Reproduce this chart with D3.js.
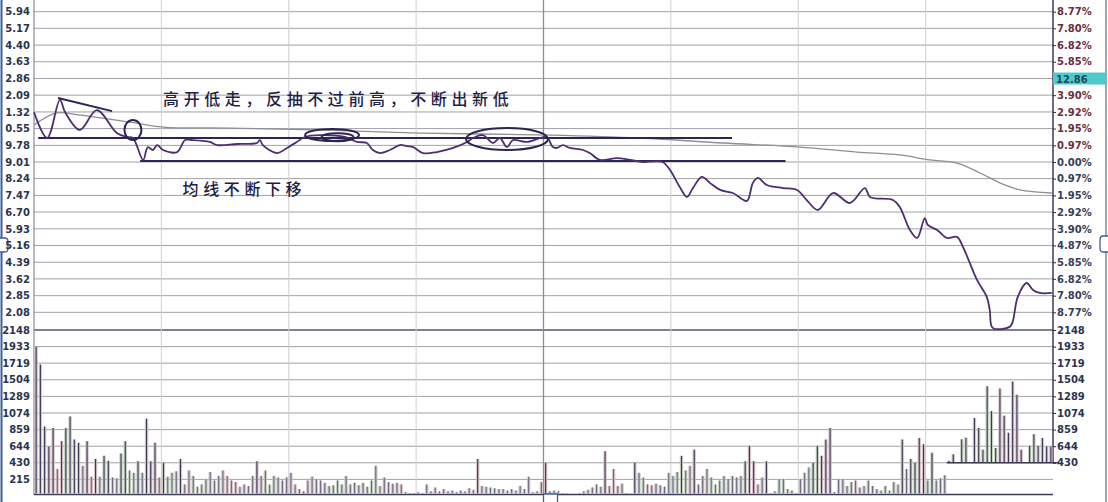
<!DOCTYPE html>
<html><head><meta charset="utf-8">
<script src="https://cdn.jsdelivr.net/npm/d3@7/dist/d3.min.js"></script>
<style>
html,body{margin:0;padding:0;background:#fff;}
svg{display:block;}
</style></head>
<body><svg id="c" width="1108" height="502"></svg>
<script>
// ---------- DATA ----------
// price line: [minute, % change]
const pricePts = [[0,2.9],[3.1,1.4],[6.1,3.62],[7.3,2.92],[10.8,1.87],[14.8,3.03],[19.5,1.69],[21.9,1.46],[23.3,1.4],[25.7,0.12],[26.8,0.87],[28,0.7],[29,0.99],[30.4,0.7],[33.7,0.58],[35.6,1.28],[37.4,1.28],[41.4,1.17],[43.1,0.99],[47.8,1.05],[52.5,1.11],[53.2,1.28],[53.9,0.99],[57.2,0.52],[59.6,0.82],[61.9,1.17],[63.8,1.46],[67.4,1.57],[73.2,1.46],[76.1,1.17],[78.4,1.11],[79.8,0.7],[81.5,0.52],[83.8,0.7],[86.2,0.99],[87.8,0.93],[89.3,0.87],[91.6,0.52],[94.9,0.58],[98.7,0.82],[102,1.17],[103.4,1.4],[105.7,1.57],[108.1,1.11],[109.7,1.4],[111.4,0.87],[112.8,1.28],[116.1,1.17],[119.2,1.4],[120.8,1.46],[122.2,0.87],[123.2,0.82],[124.6,0.99],[126.2,0.82],[129.3,0.7],[130.9,0.52],[133.3,0.12],[137.3,0.23],[140.4,0.12],[143.4,0],[148.1,0],[149.8,-0.47],[152.1,-1.46],[153.8,-2.04],[155.2,-1.52],[157.3,-0.87],[159.2,-1.22],[161.6,-1.63],[164.6,-1.81],[167.9,-2.27],[169.3,-1.22],[170.5,-0.93],[172.6,-1.34],[176.4,-1.52],[179.7,-1.63],[182,-2.22],[184.6,-2.8],[188.2,-1.81],[192.2,-2.39],[195.7,-1.52],[196.9,-2.04],[202.3,-2.22],[203.9,-2.62],[206.3,-3.97],[208,-4.43],[209.8,-3.27],[210.5,-3.67],[212.7,-3.97],[215,-4.43],[217.4,-4.37],[218.8,-4.96],[220.4,-5.89],[222.1,-6.88],[224.4,-7.87],[225.1,-8.63],[225.8,-9.68],[229.8,-9.62],[230.5,-9.33],[231.7,-7.87],[233.8,-7.06],[235.3,-7.47],[236.9,-7.64],[239.7,-7.64]];
// average price line: [minute, % change]
const avgPts = [[0,2.16],[5.4,2.86],[10.8,2.74],[22.6,2.33],[30.4,2.04],[46.2,1.98],[66.6,1.87],[90.9,1.69],[121.5,1.57],[142.7,1.4],[162.3,1.11],[180.4,0.87],[193.8,0.58],[203.9,0.41],[211,0.12],[217.4,-0.06],[222.8,-0.64],[227.5,-1.22],[232.2,-1.63],[239.7,-1.81]];
// per-minute volume (240 minutes)
const volumes = [
1930,1700,900,640,880,350,710,880,1030,730,
690,390,710,250,480,250,520,455,240,230,
550,710,330,300,450,300,1000,450,690,240,
430,250,300,320,480,150,330,260,120,150,
220,310,200,260,330,260,200,180,120,150,
130,260,450,260,330,150,260,240,200,240,
300,150,90,60,200,250,220,200,170,130,
140,200,150,260,150,170,140,170,120,200,
390,130,240,180,160,170,150,50,40,40,
50,40,150,60,110,60,90,60,70,50,
70,60,100,80,480,130,120,110,100,90,
90,70,90,70,130,90,250,50,60,180,
430,60,70,60,40,40,30,30,40,60,
80,110,150,120,580,130,350,130,160,40,
30,430,300,240,150,140,160,140,120,300,
260,310,520,330,390,600,150,260,350,240,
150,200,260,220,260,240,260,450,650,450,
150,240,450,40,60,220,220,90,70,40,
220,300,370,430,650,520,730,880,50,220,
220,130,180,200,110,130,200,130,90,70,
130,70,180,150,730,350,480,430,750,670,
200,560,200,230,270,455,540,430,733,755,
440,1010,880,600,1420,1100,620,1390,1040,820,
1480,1310,600,440,650,800,650,750,640,640];
const volFloorFrom = 215;   // last minutes drawn on a raised floor (as in the photo)
const volFloor = 430;

// tick labels
const pctTicks = [8.77,7.80,6.82,5.85,4.87,3.90,2.92,1.95,0.97,0,-0.97,-1.95,-2.92,-3.90,-4.87,-5.85,-6.82,-7.80,-8.77];
const leftPriceLabels = ["5.94","5.17","4.40","3.63","2.86","2.09","1.32","0.55","9.78","9.01","8.24","7.47","6.70","5.93","5.16","4.39","3.62","2.85","2.08"];
// the 4.87% label at the top is hidden under the current-price tag
const rightPctLabels = ["8.77%","7.80%","6.82%","5.85%","","3.90%","2.92%","1.95%","0.97%","0.00%","0.97%","1.95%","2.92%","3.90%","4.87%","5.85%","6.82%","7.80%","8.77%"];
const volTicks = [2148,1933,1719,1504,1289,1074,859,644,430,215];
const volTicksRight = [2148,1933,1719,1504,1289,1074,859,644,430];
const timeGrid = [30,60,90,120,150,180,210];
const currentLabel = "12.86";
const currentLabelPct = 4.87;

// hand-drawn annotations (minute, %)
const annoLines = [
  [[1,1.40],[164.4,1.40]],
  [[25,0.06],[177,0.06]],
  [[5.65,3.73],[18.4,2.97]]
];
const annoEllipses = [
  {c:[23.3,1.87], rx:8.5, ry:10},
  {c:[70.2,1.57], rx:27, ry:6},
  {c:[71.5,1.45], rx:16, ry:4},
  {c:[111.4,1.34], rx:41, ry:11}
];
const noteTexts = [
  {t:"高开低走，反抽不过前高，不断出新低", at:[30.4,3.35]},
  {t:"均线不断下移", at:[35,-1.95]}
];

// ---------- DRAW ----------
const svg = d3.select("#c");
const X0 = 34, X1 = 1053;
const x = d3.scaleLinear().domain([0,240]).range([X0,X1]);
const yP = d3.scaleLinear().domain([-8.77,8.77]).range([312.3,11.7]);
const yV = d3.scaleLinear().domain([0,2148]).range([496,330]);

// window borders
svg.append("line").attr("x1",1.5).attr("x2",1.5).attr("y1",0).attr("y2",502).attr("stroke","#3d5f95").attr("stroke-width",2);
svg.append("line").attr("x1",1106).attr("x2",1106).attr("y1",0).attr("y2",502).attr("stroke","#7a8aa5").attr("stroke-width",1.5);
svg.append("path").attr("d","M0,238 h5 q3,0 3,4 v6 q0,4 -3,4 h-5").attr("fill","#fff").attr("stroke","#3d5f95").attr("stroke-width",1.3);
svg.append("path").attr("d","M1108,236 h-5 q-3,0 -3,4 v8 q0,4 3,4 h5").attr("fill","#fff").attr("stroke","#3d5f95").attr("stroke-width",1.3);

// horizontal grid (price)
const g = svg.append("g");
g.selectAll("line.hp").data(pctTicks).join("line")
  .attr("x1",X0).attr("x2",X1).attr("y1",d=>yP(d)).attr("y2",d=>yP(d))
  .attr("stroke","#a0a0a6").attr("stroke-width",1);
// volume grid
g.selectAll("line.hv").data(volTicks).join("line")
  .attr("x1",X0).attr("x2",X1).attr("y1",d=>yV(d)).attr("y2",d=>yV(d))
  .attr("stroke",d=>d===2148?"#55556a":"#a0a0a6").attr("stroke-width",d=>d===2148?1.4:1);
// vertical grid
g.selectAll("line.v").data(timeGrid).join("line")
  .attr("x1",d=>x(d)).attr("x2",d=>x(d)).attr("y1",0).attr("y2",495)
  .attr("stroke",d=>d===120?"#8c8c94":"#cfcfd4").attr("stroke-width",d=>d===120?1.3:1);
// axes frame
svg.append("line").attr("x1",X0).attr("x2",X0).attr("y1",0).attr("y2",495).attr("stroke","#8a8a9a").attr("stroke-width",1.2);
svg.append("line").attr("x1",X1).attr("x2",X1).attr("y1",0).attr("y2",yV(volFloor)).attr("stroke","#2e2e48").attr("stroke-width",1.4);
svg.append("line").attr("x1",X0).attr("x2",X1).attr("y1",494.5).attr("y2",494.5).attr("stroke","#3a3a55").attr("stroke-width",1.6);

// volume bars
function pctAt(m){
  for(let i=1;i<pricePts.length;i++){
    if(pricePts[i][0]>=m){const a=pricePts[i-1],b=pricePts[i];return a[1]+(b[1]-a[1])*(m-a[0])/(b[0]-a[0]);}
  }
  return pricePts[pricePts.length-1][1];
}
const bars = svg.append("g");
volumes.forEach((v,i)=>{
  const up = i===0 ? true : pctAt(i+0.5) >= pctAt(i-0.5);
  const base = i>=volFloorFrom ? yV(volFloor) : yV(0)-2.5;
  const top = yV(v);
  const cx = x(i+0.5);
  if(base-top>0){
    bars.append("rect").attr("x",cx-1.7).attr("width",3.4).attr("y",top).attr("height",base-top)
      .attr("fill", up ? "#d3bfc4" : "#c0ccbc").attr("opacity",0.9);
    bars.append("line").attr("x1",cx).attr("x2",cx).attr("y1",top).attr("y2",base)
      .attr("stroke", v>400 ? "#3e3552" : "#6f6680").attr("stroke-width",1.1);
  }
});
svg.append("line").attr("x1",x(volFloorFrom)).attr("x2",X1+6).attr("y1",yV(volFloor)).attr("y2",yV(volFloor))
  .attr("stroke","#3a3a55").attr("stroke-width",1.3);

// average line
svg.append("path").datum(avgPts)
  .attr("d", d3.line().x(d=>x(d[0])).y(d=>yP(d[1])).curve(d3.curveCatmullRom))
  .attr("fill","none").attr("stroke","#8e8e96").attr("stroke-width",1.3);

// annotations: lines
svg.selectAll("line.anno").data(annoLines).join("line")
  .attr("x1",d=>x(d[0][0])).attr("y1",d=>yP(d[0][1])).attr("x2",d=>x(d[1][0])).attr("y2",d=>yP(d[1][1]))
  .attr("stroke","#2c2552").attr("stroke-width",2);

// price line
svg.append("path").datum(pricePts)
  .attr("d", d3.line().x(d=>x(d[0])).y(d=>yP(d[1])).curve(d3.curveCatmullRom))
  .attr("fill","none").attr("stroke","#4d2f6e").attr("stroke-width",1.8);

// ellipses
svg.selectAll("ellipse.anno").data(annoEllipses).join("ellipse")
  .attr("cx",d=>x(d.c[0])).attr("cy",d=>yP(d.c[1])).attr("rx",d=>d.rx).attr("ry",d=>d.ry)
  .attr("fill","none").attr("stroke","#2c2552").attr("stroke-width",2);

// notes
svg.selectAll("text.note").data(noteTexts).join("text")
  .attr("x",d=>x(d.at[0])).attr("y",d=>yP(d.at[1]))
  .attr("font-family","'Noto Sans CJK SC', sans-serif").attr("font-size",16).attr("font-weight",500)
  .attr("letter-spacing","4.6px").attr("fill","#1e2245").text(d=>d.t);

// left price axis
const axL = svg.append("g").attr("transform",`translate(${X0},0)`)
  .call(d3.axisLeft(yP).tickValues(pctTicks).tickSize(0).tickPadding(4).tickFormat((d,i)=>leftPriceLabels[i]));
axL.select(".domain").remove();
axL.selectAll("text").attr("font-family","'DejaVu Sans', sans-serif").attr("font-size",10).attr("font-weight","bold").attr("fill","#2b3352");

// right pct axis
const axR = svg.append("g").attr("transform",`translate(${X1},0)`)
  .call(d3.axisRight(yP).tickValues(pctTicks).tickSize(3).tickPadding(1).tickFormat((d,i)=>rightPctLabels[i]));
axR.select(".domain").remove();
axR.selectAll("line").attr("stroke","#2e2e48");
axR.selectAll("text").attr("font-family","'DejaVu Sans', sans-serif").attr("font-size",10).attr("font-weight","bold")
  .attr("fill",d=>d>0?"#6a2e40":"#35405a");

// left volume axis
const axLV = svg.append("g").attr("transform",`translate(${X0},0)`)
  .call(d3.axisLeft(yV).tickValues(volTicks).tickSize(0).tickPadding(4).tickFormat(d=>d));
axLV.select(".domain").remove();
axLV.selectAll("text").attr("font-family","'DejaVu Sans', sans-serif").attr("font-size",10).attr("font-weight","bold").attr("fill","#2b3352");

// right volume axis
const axRV = svg.append("g").attr("transform",`translate(${X1},0)`)
  .call(d3.axisRight(yV).tickValues(volTicksRight).tickSize(3).tickPadding(1).tickFormat(d=>d));
axRV.select(".domain").remove();
axRV.selectAll("line").attr("stroke","#2e2e48");
axRV.selectAll("text").attr("font-family","'DejaVu Sans', sans-serif").attr("font-size",10).attr("font-weight","bold").attr("fill","#2b3352");

// current price tag
const ty = yP(currentLabelPct);
svg.append("rect").attr("x",X1).attr("y",ty-6).attr("width",52).attr("height",12).attr("fill","#4ec9cc");
svg.append("text").attr("x",X1+3).attr("y",ty+4).attr("font-family","'DejaVu Sans', sans-serif").attr("font-size",10).attr("font-weight","bold").attr("fill","#1d4a5a").text(currentLabel);

// small tab at bottom centre
svg.append("path").attr("d",`M${x(120)},502 v-8 h14 v8`).attr("fill","#fff").attr("stroke","#3d5f95").attr("stroke-width",1.3);
</script>
</body></html>
